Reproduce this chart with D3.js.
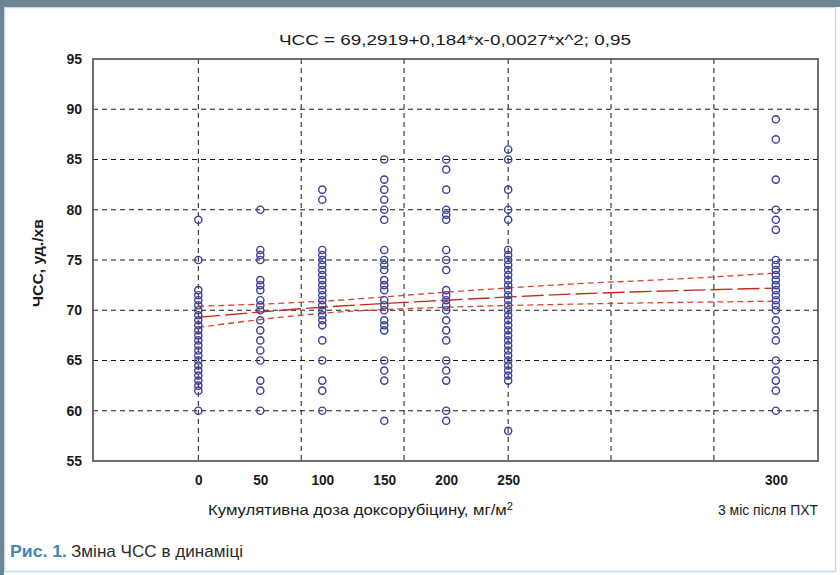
<!DOCTYPE html>
<html>
<head>
<meta charset="utf-8">
<script src="https://cdn.jsdelivr.net/npm/d3@7"></script>
<style>
  body { margin: 0; background: #fff; }
  text { font-family: "Liberation Sans Narrow", "Liberation Sans", Arial, sans-serif; fill: #1a1a1a; }
</style>
</head>
<body>
<svg id="chart" width="840" height="575"></svg>
<script>
// heart rate readings per dose group
const hr0   = [79, 75, 72, 71.5, 71, 70.5, 70, 69.5, 69, 68.5, 68, 67.5, 67, 66.5, 66, 65.5, 65, 64.5, 64, 63.5, 63, 62.5, 62, 60];
const hr50  = [80, 76, 75.5, 75, 73, 72.5, 72, 71, 70.5, 70, 69, 68, 67, 66, 65, 63, 62, 60];
const hr100 = [82, 81, 76, 75.5, 75, 74.5, 74, 73.5, 73, 72.5, 72, 71.5, 71, 70.5, 70, 69.5, 69, 68.5, 67, 65, 63, 62, 60];
const hr150 = [85, 83, 82, 81, 80, 79, 76, 75, 74.5, 74, 73, 72.5, 72, 71, 70.5, 70, 69, 68.5, 68, 65, 64, 63, 59];
const hr200 = [85, 84, 82, 80, 79.5, 79, 76, 75, 74, 72, 71.5, 71, 70.5, 70, 69, 68, 67, 65, 64, 63, 60, 59];
const hr250 = [86, 85, 82, 80, 79, 76, 75.5, 75, 74.5, 74, 73.5, 73, 72.5, 72, 71.5, 71, 70.5, 70, 69.5, 69, 68.5, 68, 67.5, 67, 66.5, 66, 65.5, 65, 64.5, 64, 63.5, 63, 58];
const hr300 = [89, 87, 83, 80, 79, 78, 75, 74.5, 74, 73.5, 73, 72.5, 72, 71.5, 71, 70.5, 70, 69, 68, 67, 65, 64, 63, 62, 60];

// x positions of the groups on the plot axis, and their labels
const groupPos = [0, 50, 100, 150, 200, 250, 466];
const groupLabels = ['0', '50', '100', '150', '200', '250', '300'];
const groupValues = [hr0, hr50, hr100, hr150, hr200, hr250, hr300];

// quadratic fit and 0.95 confidence band
const fitX     = [0, 100, 200, 300, 400, 466];
const fitMid   = [69.3, 70.3, 71.0, 71.6, 72.0, 72.2];
const fitUpper = [70.4, 70.9, 71.8, 72.6, 73.2, 73.7];
const fitLower = [68.3, 69.7, 70.3, 70.6, 70.8, 70.9];

const yTicks = [55, 60, 65, 70, 75, 80, 85, 90, 95];
const xGrid = [0, 83, 166, 250, 333, 416];

const svg = d3.select('#chart');

// outer frame of the figure
svg.append('rect').attr('x', 4.5).attr('y', 7.5).attr('width', 831).attr('height', 564)
  .attr('fill', 'none').attr('stroke', '#c3d9e6').attr('stroke-width', 1.5);
svg.append('rect').attr('x', 0).attr('y', 0).attr('width', 840).attr('height', 7).attr('fill', '#6b8594');
svg.append('rect').attr('x', 0).attr('y', 0).attr('width', 4).attr('height', 575).attr('fill', '#6b8594');

const margin = { top: 59, right: 22, bottom: 114, left: 93 };
const width = 840 - margin.left - margin.right;
const height = 575 - margin.top - margin.bottom;

const x = d3.scaleLinear().domain([-85, 500]).range([0, width]);
const y = d3.scaleLinear().domain([55, 95]).range([height, 0]);

const g = svg.append('g').attr('transform', `translate(${margin.left},${margin.top})`);

// grid
g.selectAll('.hgrid')
  .data(yTicks.filter(d => d > 55 && d < 95))
  .enter().append('line')
  .attr('x1', 0).attr('x2', width)
  .attr('y1', d => y(d)).attr('y2', d => y(d))
  .attr('stroke', '#1a1a1a').attr('stroke-dasharray', '5,4').attr('stroke-width', 1);

g.selectAll('.vgrid')
  .data(xGrid)
  .enter().append('line')
  .attr('x1', d => x(d)).attr('x2', d => x(d))
  .attr('y1', 0).attr('y2', height)
  .attr('stroke', '#1a1a1a').attr('stroke-dasharray', '5,4').attr('stroke-width', 1);

// fit lines
const line = d3.line().x(d => x(d[0])).y(d => y(d[1])).curve(d3.curveMonotoneX);
g.append('path').datum(fitX.map((v, i) => [v, fitUpper[i]]))
  .attr('d', line).attr('fill', 'none').attr('stroke', '#d8452e')
  .attr('stroke-width', 1.3).attr('stroke-dasharray', '6,4');
g.append('path').datum(fitX.map((v, i) => [v, fitLower[i]]))
  .attr('d', line).attr('fill', 'none').attr('stroke', '#d8452e')
  .attr('stroke-width', 1.3).attr('stroke-dasharray', '6,4');
g.append('path').datum(fitX.map((v, i) => [v, fitMid[i]]))
  .attr('d', line).attr('fill', 'none').attr('stroke', '#c42a1c')
  .attr('stroke-width', 1.4).attr('stroke-dasharray', '22,5');

// points
const points = [];
groupValues.forEach((vals, i) => vals.forEach(v => points.push({ pos: groupPos[i], hr: v })));

g.selectAll('.pt')
  .data(points)
  .enter().append('circle')
  .attr('class', 'pt')
  .attr('cx', d => x(d.pos))
  .attr('cy', d => y(d.hr))
  .attr('r', 3.6)
  .attr('fill', 'none')
  .attr('stroke', '#3b3f98')
  .attr('stroke-width', 1.4);

// plot frame
g.append('rect').attr('x', 0).attr('y', 0).attr('width', width).attr('height', height)
  .attr('fill', 'none').attr('stroke', '#4a4a4a').attr('stroke-width', 1.6);

// y axis labels
const yAxis = d3.axisLeft(y).tickValues(yTicks).tickSize(0).tickPadding(11);
g.append('g').call(yAxis)
  .call(a => a.select('.domain').remove())
  .selectAll('text')
  .style('font-family', '"Liberation Sans", Arial, sans-serif')
  .style('font-size', '14px').style('font-weight', 'bold').style('fill', '#1a1a1a');

// x axis labels, squeezed to the narrow face of the original
const xAxis = d3.axisBottom(x).tickValues(groupPos).tickFormat((d, i) => groupLabels[i])
  .tickSize(0).tickPadding(13);
g.append('g').attr('transform', `translate(0,${height})`).call(xAxis)
  .call(a => a.select('.domain').remove())
  .selectAll('text')
  .attr('textLength', (d, i) => groupLabels[i].length * 7.6)
  .attr('lengthAdjust', 'spacingAndGlyphs')
  .style('font-family', '"Liberation Sans", Arial, sans-serif')
  .style('font-size', '15px').style('font-weight', 'bold').style('fill', '#1a1a1a');

// title
svg.append('text')
  .attr('x', 455).attr('y', 45)
  .attr('text-anchor', 'middle')
  .attr('textLength', 352).attr('lengthAdjust', 'spacingAndGlyphs')
  .style('font-size', '15px')
  .text('ЧСС = 69,2919+0,184*x-0,0027*x^2; 0,95');

// y-axis title
svg.append('text')
  .attr('transform', 'translate(43,263) rotate(-90)')
  .attr('text-anchor', 'middle')
  .attr('textLength', 88).attr('lengthAdjust', 'spacingAndGlyphs')
  .style('font-family', '"Liberation Sans", Arial, sans-serif')
  .style('font-size', '15px').style('font-weight', 'bold')
  .text('ЧСС, уд./хв');

// x-axis titles
const xt = svg.append('text')
  .attr('x', 208).attr('y', 515)
  .attr('textLength', 305).attr('lengthAdjust', 'spacingAndGlyphs')
  .style('font-size', '15px');
xt.append('tspan').text('Кумулятивна доза доксорубіцину, мг/м');
xt.append('tspan').attr('dy', -5).style('font-size', '10px').text('2');

svg.append('text')
  .attr('x', 718).attr('y', 515)
  .attr('textLength', 100).attr('lengthAdjust', 'spacingAndGlyphs')
  .style('font-size', '15px')
  .text('3 міс після ПХТ');

// caption
svg.append('text')
  .attr('x', 10).attr('y', 557)
  .attr('textLength', 57).attr('lengthAdjust', 'spacingAndGlyphs')
  .style('font-size', '17px').style('font-weight', 'bold').style('fill', '#3f86b0')
  .text('Рис. 1.');
svg.append('text')
  .attr('x', 71).attr('y', 557)
  .attr('textLength', 172).attr('lengthAdjust', 'spacingAndGlyphs')
  .style('font-size', '17px').style('fill', '#2a2a2a')
  .text('Зміна ЧСС в динаміці');
</script>
</body>
</html>
